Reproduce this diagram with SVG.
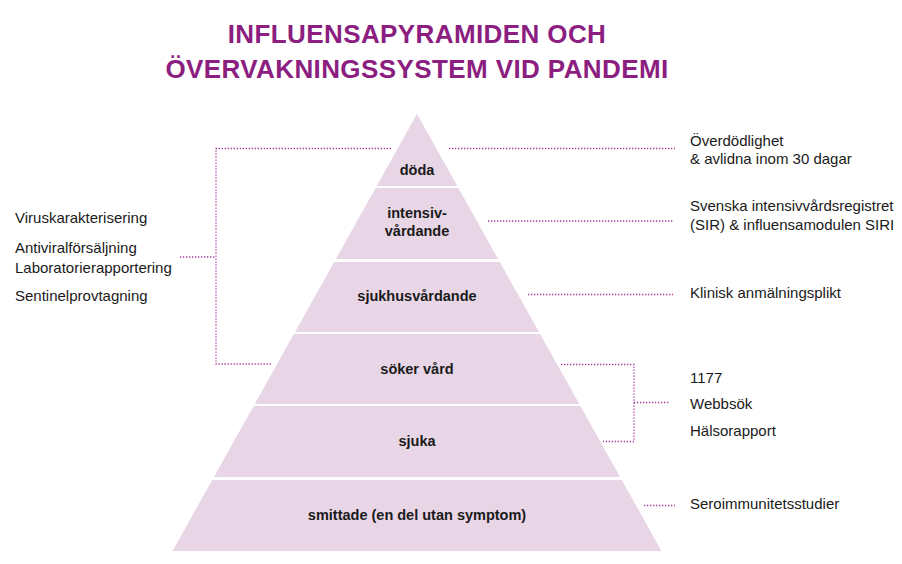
<svg xmlns="http://www.w3.org/2000/svg" width="902" height="564" viewBox="0 0 902 564">
<style>
.title{font-family:"Liberation Sans",Arial,sans-serif;font-weight:bold;font-size:26px;fill:#8b1e80;letter-spacing:0.4px;text-anchor:middle}
.band{fill:#e8d6e6}
.bl{font-family:"Liberation Sans",Arial,sans-serif;font-weight:bold;font-size:14.5px;fill:#1a1a1a;text-anchor:middle}
.lbl{font-family:"Liberation Sans",Arial,sans-serif;font-size:15px;fill:#1a1a1a}
.dot{fill:none;stroke:#a6399a;stroke-width:1.3;stroke-dasharray:1.3 1.7}
</style>
<rect width="902" height="564" fill="#ffffff"/>
<g id="title">
<text class="title" x="417" y="43">INFLUENSAPYRAMIDEN OCH</text>
<text class="title" x="417" y="78">ÖVERVAKNINGSSYSTEM VID PANDEMI</text>
</g>
<g id="doda">
<polygon class="band" points="417,114 457.3,186 376.7,186"/>
<text class="bl" x="417" y="175">döda</text>
</g>
<g id="intensivvardande">
<polygon class="band" points="375.6,188 458.4,188 498.1,259 335.9,259"/>
<text class="bl" x="417" y="218">intensiv-</text>
<text class="bl" x="417" y="236">vårdande</text>
</g>
<g id="sjukhusvardande">
<polygon class="band" points="334.2,262 499.8,262 539,332 295,332"/>
<text class="bl" x="417" y="301">sjukhusvårdande</text>
</g>
<g id="soker-vard">
<polygon class="band" points="293.9,334 540.1,334 579.3,404 254.7,404"/>
<text class="bl" x="417" y="374">söker vård</text>
</g>
<g id="sjuka">
<polygon class="band" points="253.6,406 580.4,406 620.1,477 213.9,477"/>
<text class="bl" x="417" y="446">sjuka</text>
</g>
<g id="smittade">
<polygon class="band" points="212.2,480 621.8,480 661.5,551 172.5,551"/>
<text class="bl" x="417" y="520">smittade (en del utan symptom)</text>
</g>
<g id="left-labels">
<text class="lbl" x="15" y="223">Viruskarakterisering</text>
<text class="lbl" x="15" y="253">Antiviralförsäljning</text>
<text class="lbl" x="15" y="273">Laboratorierapportering</text>
<text class="lbl" x="15" y="301">Sentinelprovtagning</text>
</g>
<g id="right-labels">
<text class="lbl" x="690" y="146">Överdödlighet</text>
<text class="lbl" x="690" y="164">&amp; avlidna inom 30 dagar</text>
<text class="lbl" x="690" y="211">Svenska intensivvårdsregistret</text>
<text class="lbl" x="690" y="230">(SIR) &amp; influensamodulen SIRI</text>
<text class="lbl" x="690" y="298">Klinisk anmälningsplikt</text>
<text class="lbl" x="690" y="383">1177</text>
<text class="lbl" x="690" y="409">Webbsök</text>
<text class="lbl" x="690" y="436">Hälsorapport</text>
<text class="lbl" x="690" y="509">Seroimmunitetsstudier</text>
</g>
<g id="connectors">
<polyline class="dot" points="391,148.5 216,148.5 216,364 272,364"/>
<line class="dot" x1="180" y1="257" x2="216" y2="257"/>
<line class="dot" x1="449" y1="148.5" x2="675" y2="148.5"/>
<line class="dot" x1="488" y1="221" x2="673" y2="221"/>
<line class="dot" x1="528" y1="294.5" x2="673" y2="294.5"/>
<polyline class="dot" points="561,364.5 634,364.5 634,441.5 603,441.5"/>
<line class="dot" x1="634" y1="402.5" x2="669" y2="402.5"/>
<line class="dot" x1="644" y1="505.5" x2="675" y2="505.5"/>
</g>
</svg>
